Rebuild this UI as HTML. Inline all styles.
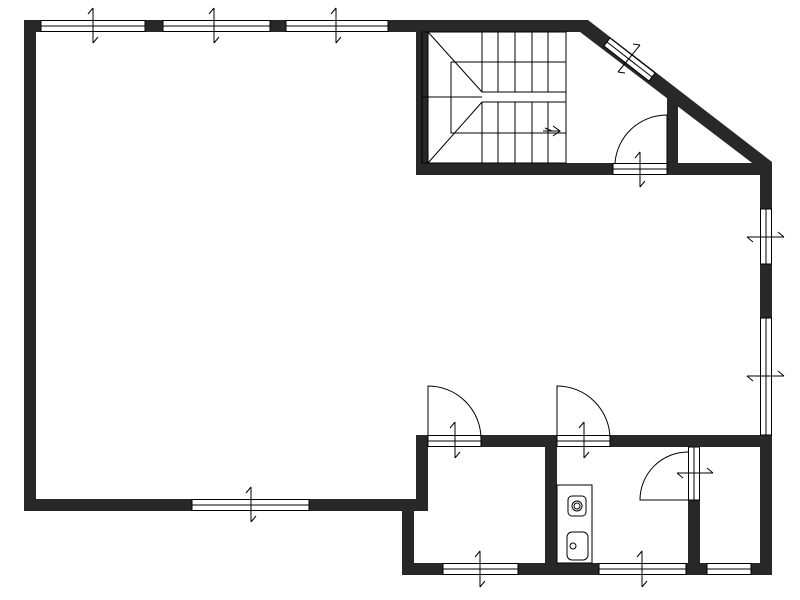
<!DOCTYPE html>
<html><head><meta charset="utf-8"><style>html,body{margin:0;padding:0;background:#fff}svg{display:block}</style></head>
<body>
<svg width="800" height="600" viewBox="0 0 800 600" xmlns="http://www.w3.org/2000/svg">
<g fill="#282828">
<!-- outer walls -->
<rect x="24" y="20" width="564" height="12"/>
<rect x="24" y="20" width="12" height="491"/>
<rect x="24" y="499" width="404" height="12"/>
<rect x="416" y="436" width="12" height="75"/>
<rect x="402" y="499" width="12" height="76"/>
<rect x="402" y="563" width="370" height="12"/>
<rect x="760" y="164" width="12" height="411"/>
<polygon points="588,20 772,162 772,172 764,172 580,32"/>
<!-- stair room -->
<rect x="416" y="20" width="12" height="155"/>
<rect x="416" y="163" width="356" height="12"/>
<rect x="667" y="95" width="11" height="80"/>
<!-- interior bottom -->
<rect x="416" y="435" width="356" height="12"/>
<rect x="545" y="435" width="12" height="140"/>
<rect x="688" y="500" width="12" height="75"/>
</g>
<g fill="#fff" stroke="#000" stroke-width="1">
<!-- top windows -->
<rect x="41" y="20.5" width="104" height="11"/><line x1="41" y1="26" x2="145" y2="26"/>
<rect x="163" y="20.5" width="107" height="11"/><line x1="163" y1="26" x2="270" y2="26"/>
<rect x="286" y="20.5" width="102" height="11"/><line x1="286" y1="26" x2="388" y2="26"/>
<!-- bottom main -->
<rect x="192" y="499.5" width="117" height="11"/><line x1="192" y1="505" x2="309" y2="505"/>
<!-- right windows -->
<rect x="760.5" y="209" width="11" height="55"/><line x1="766" y1="209" x2="766" y2="264"/>
<rect x="760.5" y="318" width="11" height="117"/><line x1="766" y1="318" x2="766" y2="435"/>
<!-- bottom windows -->
<rect x="443" y="563.5" width="75" height="11"/><line x1="443" y1="569" x2="518" y2="569"/>
<rect x="599" y="563.5" width="87" height="11"/><line x1="599" y1="569" x2="686" y2="569"/>
<rect x="707" y="563.5" width="44" height="11"/><line x1="707" y1="569" x2="751" y2="569"/>
<!-- stair window -->
<rect x="613" y="163.5" width="54" height="11"/><line x1="613" y1="169" x2="667" y2="169"/>
<!-- door openings -->
<rect x="428" y="435.5" width="53" height="11"/><line x1="428" y1="441" x2="481" y2="441"/>
<rect x="557" y="435.5" width="53" height="11"/><line x1="557" y1="441" x2="610" y2="441"/>
<rect x="688.5" y="447" width="11" height="53"/><line x1="694" y1="447" x2="694" y2="500"/>
</g>
<!-- diagonal window -->
<polygon points="610,38 655,73 649,81 604,46" fill="#fff" stroke="#000"/>
<line x1="607" y1="42" x2="652" y2="77" stroke="#000"/>
<g fill="none" stroke="#000" stroke-width="1">
<!-- break symbols (vertical) -->
<path d="M93,8 V43 M93,8 L88,14 M93,43 L98,37"/>
<path d="M214,8 V43 M214,8 L209,14 M214,43 L219,37"/>
<path d="M336,8 V43 M336,8 L331,14 M336,43 L341,37"/>
<path d="M251,487 V522 M251,487 L246,493 M251,522 L256,516"/>
<path d="M480,551 V587 M480,551 L475,557 M480,587 L485,581"/>
<path d="M642,551 V587 M642,551 L637,557 M642,587 L647,581"/>
<path d="M455,422 V458 M455,422 L450,428 M455,458 L460,452"/>
<path d="M584,422 V458 M584,422 L579,428 M584,458 L589,452"/>
<path d="M640,152 V187 M640,152 L635,158 M640,187 L645,181"/>
<!-- horizontal breaks -->
<path d="M747,237 H784 M784,237 L778,232 M747,237 L753,242"/>
<path d="M747,376 H784 M784,376 L778,371 M747,376 L753,381"/>
<path d="M677,473 H713 M713,473 L707,468 M677,473 L683,478"/>
<path d="M618,72 L640,45 M640,45 L633,44 M618,72 L625,73"/>
<!-- doors -->
<path d="M428,446 V386 A53,53 0 0 1 481,439"/>
<path d="M557,446 V386 A53,53 0 0 1 610,439"/>
<path d="M688,500 H640 A48,48 0 0 1 688,452"/>
<path d="M667,163 V115 A52,52 0 0 0 615,163"/>
<!-- stairs -->
<rect x="422" y="32" width="144" height="131"/>
<path d="M428,32 V163"/>
<path d="M482,32 V92 H566 M482,102 H566 V163 M482,102 V163"/>
<path d="M498,32 V92 M515,32 V92 M532,32 V92 M548,32 V92"/>
<path d="M498,102 V163 M515,102 V163 M532,102 V163 M548,102 V163"/>
<path d="M451,62 H566 M451,62 V133 H566 M422,97 H482"/>
<path d="M428,32 L482,92 M482,102 L428,163"/>
<path d="M543,131 H560 M553,126 L560,131 L553,136 M545,128 L552,131"/>
<!-- kitchen -->
<rect x="557" y="485" width="35" height="78"/>
<rect x="568" y="496" width="18" height="20" rx="4"/>
<circle cx="577" cy="506" r="5"/><circle cx="577" cy="506" r="3"/>
<rect x="567" y="532" width="21" height="28" rx="5"/>
<circle cx="573" cy="546" r="3"/>
</g>
</svg>
</body></html>
